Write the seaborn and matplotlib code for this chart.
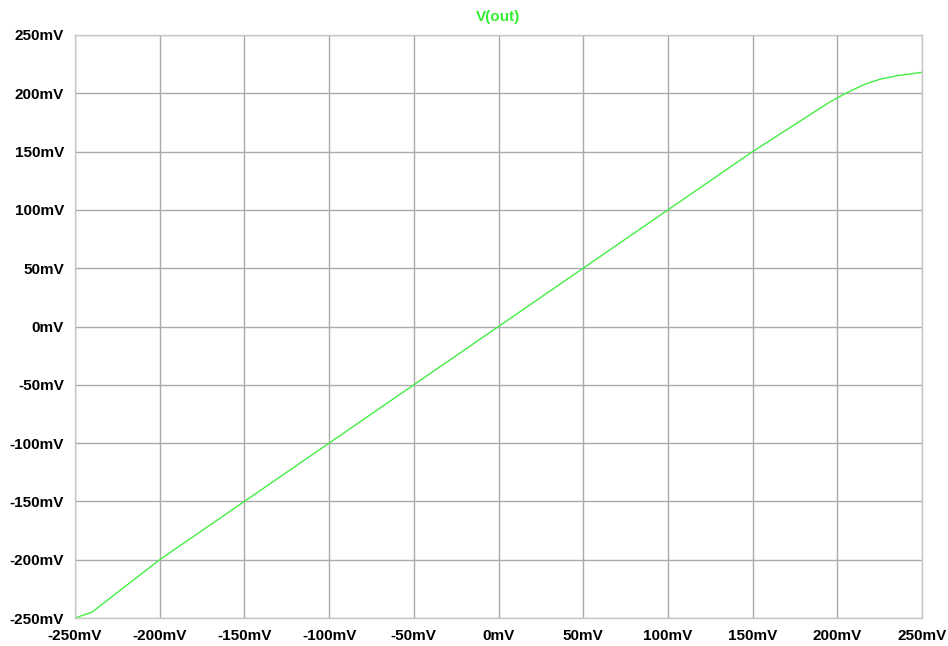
import numpy as np
import pandas as pd
import matplotlib
matplotlib.use("Agg")
import matplotlib.pyplot as plt
import seaborn as sns

# sweep input (mV) and output V(out) (mV)
v_in = [-250, -240, -200, -150, -100, -50, 0, 50, 100, 150, 165, 180,
        195, 205, 215, 225, 235, 245, 250]
v_out = [-250, -245, -200, -150, -100, -50, 0, 50, 100, 150, 164, 178,
         192, 200, 207, 212, 215, 217, 218]
ticks = [-250, -200, -150, -100, -50, 0, 50, 100, 150, 200, 250]
tick_labels = [f"{t}mV" for t in ticks]

sns.set_style("white")
plt.rcParams['font.family'] = ['Liberation Sans', 'DejaVu Sans']

df = pd.DataFrame({"vin": v_in, "vout": v_out})

fig = plt.figure(figsize=(9.48, 6.46), dpi=100)
ax = fig.add_axes([75 / 948, 1 - 618 / 646, (922 - 75) / 948, (618 - 35) / 646])

sns.lineplot(data=df, x="vin", y="vout", ax=ax, color="#44ee44", linewidth=1.0)

ax.set_xlim(-250, 250)
ax.set_ylim(-250, 250)
ax.set_xticks(ticks)
ax.set_yticks(ticks)
ax.set_xticklabels(tick_labels, fontsize=11, fontweight="bold")
ax.set_yticklabels(tick_labels, fontsize=11, fontweight="bold")
ax.set_xlabel("")
ax.set_ylabel("")
ax.grid(True, color="#aaaaaa", linewidth=1.0)
ax.set_axisbelow(True)
ax.tick_params(axis="both", length=6, width=1, color="#bbbbbb", pad=2,
               labelcolor="black")
for s in ax.spines.values():
    s.set_color("#c8c8c8")
    s.set_linewidth(1.0)

fig.text(498 / 948, 1 - 17 / 646, "V(out)", color="#33ee33", fontsize=11,
         fontweight="bold", ha="center", va="center")

fig.savefig("out.png", dpi=100)
